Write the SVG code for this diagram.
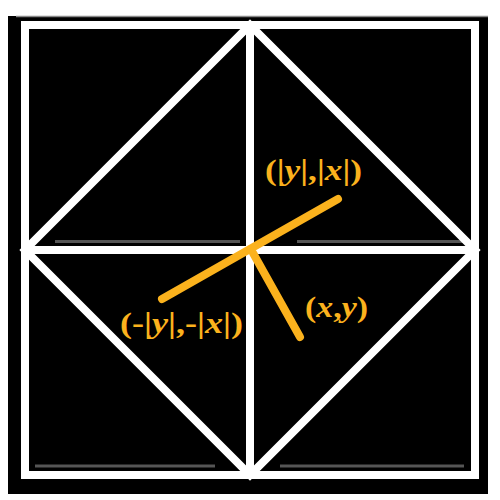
<svg xmlns="http://www.w3.org/2000/svg" width="500" height="500" viewBox="0 0 500 500">
<style>
.w{stroke:#fff;stroke-width:8;fill:none}
.g{stroke:#555;stroke-width:3}
.y{stroke:#fbb21d;stroke-width:8;stroke-linecap:round}
.t{font-family:"Liberation Serif","Times New Roman",serif;font-weight:bold;fill:#fbb21d}
.i{font-style:italic}
</style>
<rect x="0" y="0" width="500" height="500" fill="#fff"/>
<rect x="8" y="16" width="480" height="478" fill="#000"/>
<line x1="16" y1="16.5" x2="488" y2="16.5" stroke="#888" stroke-width="1.5"/>
<g id="shadows">
<line class="g" x1="55" y1="241.5" x2="240" y2="241.5"/>
<line class="g" x1="297" y1="241.5" x2="470" y2="241.5"/>
<line class="g" x1="35" y1="466" x2="215" y2="466"/>
<line class="g" x1="280" y1="466" x2="464" y2="466"/>
</g>
<g id="grid">
<rect class="w" x="25" y="25" width="450" height="450"/>
<line class="w" x1="250" y1="25" x2="250" y2="475"/>
<line class="w" x1="25" y1="250" x2="475" y2="250"/>
<polygon class="w" points="250,25 475,250 250,475 25,250"/>
</g>
<g id="connectors">
<line class="y" x1="162" y1="299" x2="338" y2="199"/>
<line class="y" x1="253" y1="253" x2="300" y2="337"/>
</g>
<g id="label1"><text class="t" x="265" y="180" font-size="29" textLength="97" lengthAdjust="spacingAndGlyphs">(|<tspan class="i">y</tspan>|,|<tspan class="i">x</tspan>|)</text></g>
<g id="label2"><text class="t" x="120" y="333" font-size="30" textLength="123" lengthAdjust="spacingAndGlyphs">(-|<tspan class="i">y</tspan>|,-|<tspan class="i">x</tspan>|)</text></g>
<g id="label3"><text class="t" x="305" y="317" font-size="29" textLength="63" lengthAdjust="spacingAndGlyphs">(<tspan class="i">x</tspan>,<tspan class="i">y</tspan>)</text></g>
</svg>
